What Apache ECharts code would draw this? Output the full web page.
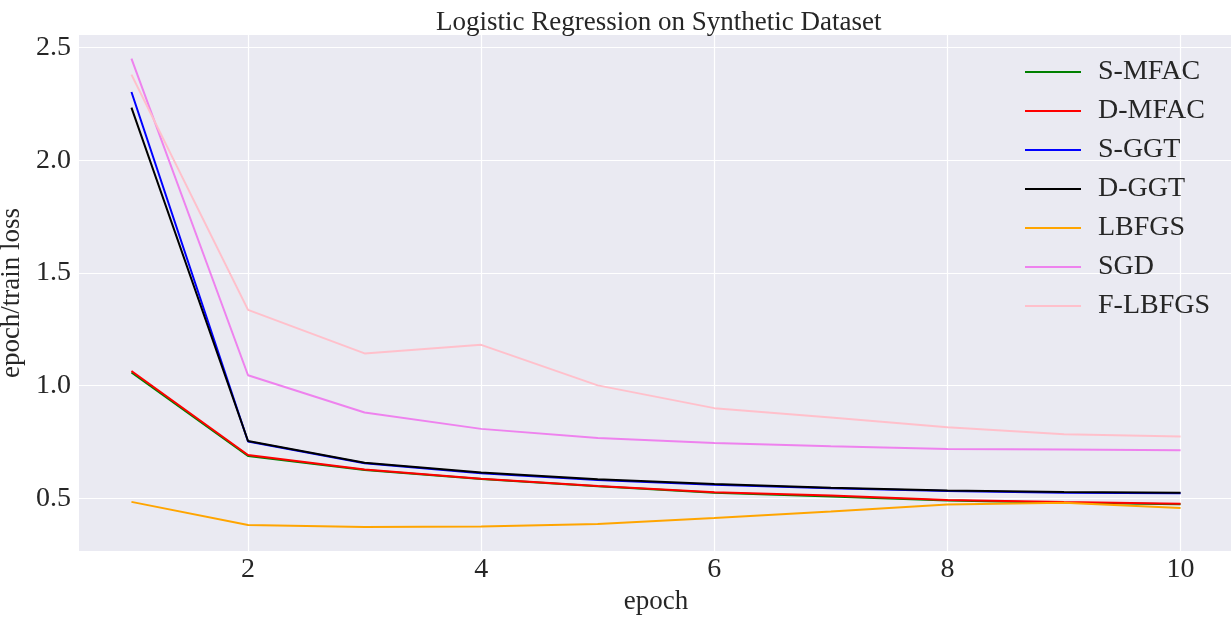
<!DOCTYPE html>
<html>
<head>
<meta charset="utf-8">
<script src="https://cdn.jsdelivr.net/npm/echarts@6/dist/echarts.min.js"></script>
<style>
html,body{margin:0;padding:0;background:#fff;}
#chart{width:1231px;height:619px;}
</style>
</head>
<body>
<div id="chart"></div>
<script>
const epochs = [1, 2, 3, 4, 5, 6, 7, 8, 9, 10];
const sMFAC  = [1.058, 0.688, 0.625, 0.585, 0.553, 0.525, 0.508, 0.490, 0.480, 0.473];
const dMFAC  = [1.065, 0.692, 0.628, 0.587, 0.555, 0.527, 0.512, 0.492, 0.483, 0.476];
const sGGT   = [2.303, 0.752, 0.655, 0.611, 0.581, 0.560, 0.544, 0.532, 0.525, 0.522];
const dGGT   = [2.234, 0.754, 0.658, 0.614, 0.584, 0.563, 0.547, 0.535, 0.528, 0.525];
const lbfgs  = [0.484, 0.381, 0.372, 0.375, 0.386, 0.413, 0.441, 0.472, 0.480, 0.457];
const sgd    = [2.451, 1.046, 0.881, 0.808, 0.768, 0.745, 0.731, 0.719, 0.716, 0.713];
const fLBFGS = [2.380, 1.336, 1.143, 1.181, 1.001, 0.900, 0.858, 0.815, 0.784, 0.774];

const xTicks = [2, 4, 6, 8, 10];
const yTicks = [0.5, 1.0, 1.5, 2.0, 2.5];

const seriesDefs = [
  {name: 'S-MFAC', data: sMFAC, color: '#008000'},
  {name: 'D-MFAC', data: dMFAC, color: '#ff0000'},
  {name: 'S-GGT', data: sGGT, color: '#0000ff'},
  {name: 'D-GGT', data: dGGT, color: '#000000'},
  {name: 'LBFGS', data: lbfgs, color: '#ffa500'},
  {name: 'SGD', data: sgd, color: '#ee82ee'},
  {name: 'F-LBFGS', data: fLBFGS, color: '#ffc0cb'}
];

const font = '"Liberation Serif", "Times New Roman", serif';
const textColor = '#262626';

const chart = echarts.init(document.getElementById('chart'));
chart.setOption({
  animation: false,
  backgroundColor: '#ffffff',
  title: {
    text: 'Logistic Regression on Synthetic Dataset',
    left: 431, top: 4,
    textStyle: {fontFamily: font, fontSize: 27, fontWeight: 'normal', color: textColor}
  },
  grid: {left: 79, top: 35, right: -2, bottom: 68, show: true, backgroundColor: '#eaeaf2', borderWidth: 0,
    outerBoundsMode: 'none', containLabel: false},
  legend: {
    orient: 'vertical',
    left: 1020, top: 53,
    itemWidth: 56, itemHeight: 2, itemGap: 11,
    icon: 'rect',
    textStyle: {fontFamily: font, fontSize: 28, color: textColor, lineHeight: 26, padding: [0, 0, 0, 12]},
    data: seriesDefs.map(s => s.name)
  },
  xAxis: {
    type: 'value',
    min: 0.55, max: 10.45,
    name: 'epoch', nameLocation: 'middle', nameGap: 27,
    nameTextStyle: {fontFamily: font, fontSize: 27, color: textColor},
    axisLine: {show: false},
    axisTick: {show: false, customValues: xTicks},
    axisLabel: {customValues: xTicks, fontFamily: font, fontSize: 28, color: textColor, margin: 5},
    splitLine: {show: true, lineStyle: {color: '#ffffff', width: 1.2}}
  },
  yAxis: {
    type: 'value',
    min: 0.266, max: 2.556,
    name: 'epoch/train loss', nameLocation: 'middle', nameGap: 2,
    nameTextStyle: {fontFamily: font, fontSize: 27, color: textColor},
    axisLine: {show: false},
    axisTick: {show: false, customValues: yTicks},
    axisLabel: {customValues: yTicks, fontFamily: font, fontSize: 28, color: textColor, margin: 8,
      formatter: v => v.toFixed(1)},
    splitLine: {show: true, lineStyle: {color: '#ffffff', width: 1.2}}
  },
  series: seriesDefs.map(s => ({
    name: s.name,
    type: 'line',
    data: epochs.map((e, i) => [e, s.data[i]]),
    showSymbol: false,
    symbol: 'none',
    color: s.color,
    lineStyle: {color: s.color, width: 2},
    itemStyle: {color: s.color}
  }))
});
</script>
</body>
</html>
